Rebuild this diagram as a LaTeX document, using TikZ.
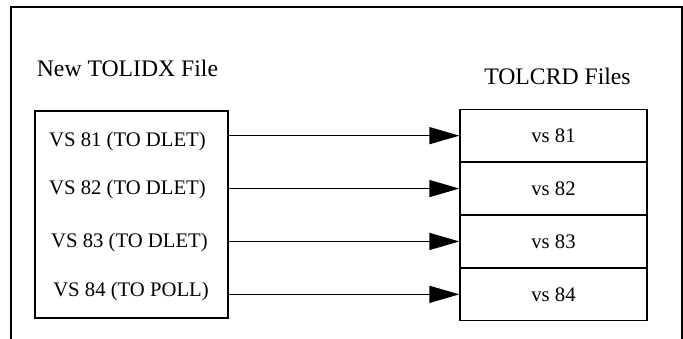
\documentclass[tikz,border=0pt]{standalone}
\usepackage{fontspec}
\setmainfont{Liberation Serif}
\usetikzlibrary{matrix,positioning,arrows.meta}
\tikzset{
filemat/.style={
  matrix of nodes,
  inner sep=0pt,
  row sep=-\pgflinewidth,
  nodes={draw, line width=1.3pt, minimum width=187pt, minimum height=52pt,
    font=\fontsize{20.7}{24}\selectfont}
  },
entry/.style={font=\fontsize{20.7}{24}\selectfont, inner sep=0pt},
heading/.style={font=\fontsize{23.7}{28}\selectfont, inner sep=0pt, anchor=base}
}

\begin{document}
\begin{tikzpicture}[x=1pt, y=-1pt, >={Triangle[length=30pt,width=17pt]}]
\useasboundingbox (0,0) rectangle (683,339);

% open frame round both files
\draw[line width=2pt] (11,339) |- (682,7) -- (682,339);

\node[heading] (idxhead) at (127.5,77) {New TOLIDX File};
\node[heading] (crdhead) at (557.5,85) {TOLCRD Files};

% index file with its entries
\node[draw, line width=1.3pt, minimum width=193pt, minimum height=207pt]
  (idx) at (131.5,214.5) {};
\node[entry] (vs1) at (127.5,141.5) {VS 81 (TO DLET)};
\node[entry] (vs2) at (127.5,190) {VS 82 (TO DLET)};
\node[entry] (vs3) at (129.5,243) {VS 83 (TO DLET)};
\node[entry] (vs4) at (131,292) {VS 84 (TO POLL)};

% card files
\matrix[filemat, anchor=center]
at (553.5,215)
(crd)
{
vs 81 \\
vs 82 \\
vs 83 \\
vs 84 \\
};

\begin{scope}[line width=1.3pt]
\foreach \i in {1,...,4}
  \draw[->] (idx.east |- crd-\i-1.west) -- (crd-\i-1.west);
\end{scope}
\end{tikzpicture}
\end{document}
